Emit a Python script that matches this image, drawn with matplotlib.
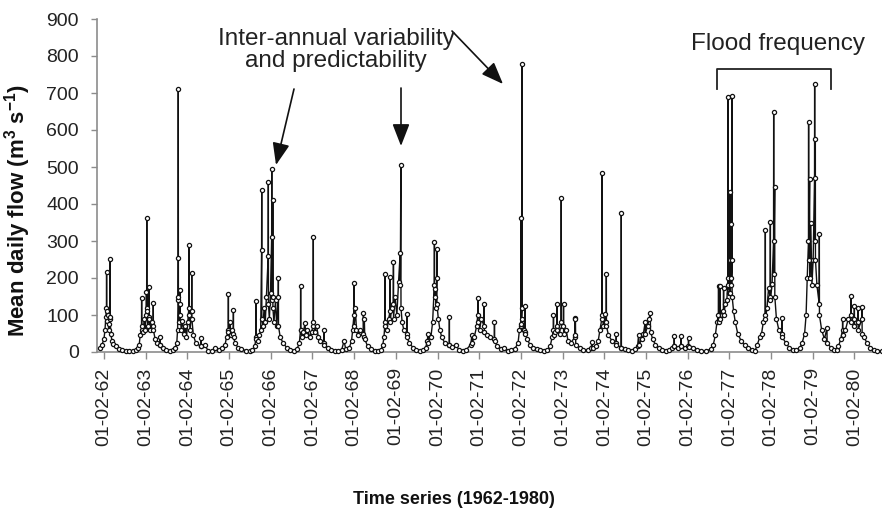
import numpy as np
import matplotlib
matplotlib.use("Agg")
import matplotlib.pyplot as plt

# ---- data: (date, mean daily flow m3/s) anchor readings per hydrological season ----
season_62 = [("1962-01-01", 12), ("1962-01-15", 20), ("1962-02-01", 35), ("1962-02-10", 60), ("1962-02-18", 95),
             ("1962-02-23", 120), ("1962-02-24", 216), ("1962-02-25", 110), ("1962-03-02", 85), ("1962-03-08", 100),
             ("1962-03-14", 60), ("1962-03-20", 75), ("1962-03-24", 90), ("1962-03-25", 251), ("1962-03-26", 95),
             ("1962-04-02", 50), ("1962-04-12", 30), ("1962-04-25", 22), ("1962-05-15", 15), ("1962-06-10", 8),
             ("1962-07-10", 5), ("1962-08-10", 3), ("1962-09-10", 2), ("1962-10-10", 3), ("1962-11-05", 5),
             ("1962-11-25", 10)]
season_63 = [("1962-12-07", 20), ("1962-12-15", 45), ("1962-12-27", 60), ("1962-12-28", 146), ("1962-12-29", 70),
             ("1963-01-10", 55), ("1963-01-20", 90), ("1963-01-28", 60), ("1963-02-05", 100), ("1963-02-08", 162),
             ("1963-02-10", 120), ("1963-02-11", 363), ("1963-02-12", 110), ("1963-02-20", 70), ("1963-03-01", 95),
             ("1963-03-02", 175), ("1963-03-03", 90), ("1963-03-15", 60), ("1963-03-25", 80), ("1963-04-08", 70),
             ("1963-04-09", 132), ("1963-04-10", 60), ("1963-04-25", 35), ("1963-05-15", 25), ("1963-06-05", 20),
             ("1963-06-06", 41), ("1963-06-08", 18), ("1963-07-01", 10), ("1963-08-01", 5), ("1963-09-01", 3),
             ("1963-10-01", 5), ("1963-10-20", 12)]
season_64 = [("1963-11-01", 25), ("1963-11-08", 60), ("1963-11-12", 140), ("1963-11-13", 255), ("1963-11-14", 710),
             ("1963-11-15", 150), ("1963-11-22", 80), ("1963-11-28", 130), ("1963-11-29", 167), ("1963-11-30", 100),
             ("1963-12-10", 60), ("1963-12-20", 85), ("1964-01-05", 50), ("1964-01-15", 70), ("1964-01-25", 40),
             ("1964-02-05", 80), ("1964-02-15", 120), ("1964-02-16", 290), ("1964-02-17", 100), ("1964-02-25", 60),
             ("1964-03-10", 110), ("1964-03-11", 213), ("1964-03-12", 90), ("1964-03-25", 45), ("1964-04-15", 25),
             ("1964-05-30", 15), ("1964-05-31", 38), ("1964-06-01", 15), ("1964-07-01", 20), ("1964-08-01", 4),
             ("1964-09-01", 3), ("1964-10-01", 10), ("1964-11-01", 5), ("1964-12-01", 10)]
season_65 = [("1964-12-28", 20), ("1965-01-10", 40), ("1965-01-25", 60), ("1965-01-26", 158), ("1965-01-27", 55),
             ("1965-02-10", 82), ("1965-02-17", 45), ("1965-02-27", 60), ("1965-03-10", 50), ("1965-03-11", 113),
             ("1965-03-12", 40), ("1965-03-25", 25), ("1965-04-20", 12), ("1965-05-20", 7), ("1965-07-01", 4),
             ("1965-08-01", 3), ("1965-08-25", 5)]
season_66 = [("1965-09-15", 15), ("1965-09-24", 40), ("1965-09-25", 137), ("1965-09-26", 35), ("1965-10-10", 30),
             ("1965-10-25", 45), ("1965-11-05", 60), ("1965-11-13", 275), ("1965-11-14", 437), ("1965-11-15", 90),
             ("1965-11-25", 70), ("1965-12-05", 120), ("1965-12-15", 80), ("1965-12-25", 150), ("1966-01-10", 260),
             ("1966-01-11", 460), ("1966-01-12", 130), ("1966-01-20", 90), ("1966-01-30", 160), ("1966-02-09", 310),
             ("1966-02-10", 495), ("1966-02-11", 140), ("1966-02-18", 150), ("1966-02-19", 410), ("1966-02-20", 120),
             ("1966-03-01", 80), ("1966-03-15", 140), ("1966-03-25", 70), ("1966-04-08", 150), ("1966-04-09", 200),
             ("1966-04-10", 70), ("1966-04-25", 40), ("1966-05-20", 25), ("1966-06-20", 12), ("1966-07-20", 6),
             ("1966-08-20", 4), ("1966-09-20", 8)]
season_67 = [("1966-10-10", 25), ("1966-10-20", 60), ("1966-10-21", 178), ("1966-10-22", 60), ("1966-11-01", 40),
             ("1966-11-15", 55), ("1966-11-28", 78), ("1966-12-05", 45), ("1966-12-20", 60), ("1967-01-10", 40),
             ("1967-01-25", 55), ("1967-02-08", 70), ("1967-02-09", 311), ("1967-02-10", 80), ("1967-02-20", 55),
             ("1967-03-10", 70), ("1967-03-25", 40), ("1967-04-10", 30), ("1967-05-13", 25), ("1967-05-14", 59),
             ("1967-05-15", 20), ("1967-06-15", 12), ("1967-07-15", 6), ("1967-08-15", 4), ("1967-09-15", 3),
             ("1967-10-15", 5), ("1967-11-05", 30), ("1967-11-20", 8), ("1967-12-20", 10)]
season_68 = [("1968-01-10", 30), ("1968-01-20", 60), ("1968-01-31", 100), ("1968-02-01", 187), ("1968-02-02", 70),
             ("1968-02-12", 120), ("1968-02-22", 60), ("1968-03-05", 45), ("1968-03-20", 60), ("1968-04-22", 50),
             ("1968-04-23", 106), ("1968-04-25", 40), ("1968-05-01", 90), ("1968-05-05", 35), ("1968-05-30", 15),
             ("1968-06-30", 7), ("1968-07-30", 4), ("1968-08-30", 3), ("1968-09-25", 6)]
season_69 = [("1968-10-10", 20), ("1968-10-20", 40), ("1968-10-29", 80), ("1968-10-30", 210), ("1968-10-31", 70),
             ("1968-11-15", 60), ("1968-11-30", 90), ("1968-12-12", 110), ("1968-12-13", 203), ("1968-12-14", 80),
             ("1968-12-25", 120), ("1969-01-10", 130), ("1969-01-11", 242), ("1969-01-12", 90), ("1969-01-25", 150),
             ("1969-02-10", 100), ("1969-02-25", 190), ("1969-03-11", 268), ("1969-03-12", 180), ("1969-03-17", 505),
             ("1969-03-18", 120), ("1969-03-28", 80), ("1969-04-12", 60), ("1969-05-07", 50), ("1969-05-08", 104),
             ("1969-05-09", 40), ("1969-05-30", 25), ("1969-06-30", 12), ("1969-07-30", 6), ("1969-08-30", 4),
             ("1969-09-30", 6), ("1969-10-20", 12)]
season_70 = [("1969-11-05", 30), ("1969-11-08", 50), ("1969-11-12", 25), ("1969-12-05", 40), ("1969-12-20", 80),
             ("1970-01-04", 180), ("1970-01-05", 297), ("1970-01-06", 150), ("1970-01-14", 170), ("1970-01-19", 120),
             ("1970-01-25", 200), ("1970-01-26", 279), ("1970-01-27", 130), ("1970-02-08", 90), ("1970-02-22", 60),
             ("1970-03-10", 40), ("1970-04-05", 25), ("1970-05-15", 20), ("1970-05-16", 95), ("1970-05-17", 20),
             ("1970-06-10", 14), ("1970-07-10", 20), ("1970-08-10", 5), ("1970-09-10", 4), ("1970-10-10", 6)]
season_71 = [("1970-11-20", 20), ("1970-11-29", 46), ("1970-12-02", 25), ("1970-12-20", 40), ("1971-01-10", 70),
             ("1971-01-20", 100), ("1971-01-21", 145), ("1971-01-22", 80), ("1971-02-05", 60), ("1971-02-20", 90),
             ("1971-03-16", 70), ("1971-03-17", 129), ("1971-03-18", 55), ("1971-04-10", 45), ("1971-05-10", 40),
             ("1971-06-14", 35), ("1971-06-15", 82), ("1971-06-16", 30), ("1971-07-10", 15), ("1971-08-10", 8),
             ("1971-09-10", 10), ("1971-10-10", 4), ("1971-11-10", 5), ("1971-12-10", 8)]
season_72 = [("1972-01-08", 25), ("1972-01-20", 60), ("1972-01-31", 70), ("1972-02-01", 361), ("1972-02-02", 75),
             ("1972-02-09", 120), ("1972-02-10", 778), ("1972-02-11", 90), ("1972-02-25", 60), ("1972-03-09", 55),
             ("1972-03-10", 124), ("1972-03-11", 50), ("1972-03-28", 35), ("1972-04-20", 20), ("1972-05-20", 12),
             ("1972-06-20", 7), ("1972-07-20", 5), ("1972-08-20", 4), ("1972-09-20", 6)]
season_73 = [("1972-10-15", 15), ("1972-11-01", 40), ("1972-11-12", 60), ("1972-11-13", 100), ("1972-11-14", 45),
             ("1972-11-28", 55), ("1972-12-12", 70), ("1972-12-13", 129), ("1972-12-14", 60), ("1973-01-05", 50),
             ("1973-01-19", 80), ("1973-01-20", 416), ("1973-01-21", 70), ("1973-02-08", 70), ("1973-02-09", 131),
             ("1973-02-10", 50), ("1973-03-05", 59), ("1973-03-20", 30), ("1973-04-15", 25), ("1973-05-18", 40),
             ("1973-05-20", 93), ("1973-05-22", 45), ("1973-05-24", 90), ("1973-05-27", 20), ("1973-06-30", 10),
             ("1973-08-01", 6), ("1973-09-10", 5), ("1973-10-10", 12), ("1973-10-16", 28), ("1973-10-22", 10),
             ("1973-11-20", 15)]
season_74 = [("1973-12-10", 30), ("1973-12-25", 60), ("1974-01-11", 90), ("1974-01-12", 484), ("1974-01-13", 100),
             ("1974-01-25", 70), ("1974-02-10", 102), ("1974-02-18", 80), ("1974-02-19", 212), ("1974-02-20", 70),
             ("1974-03-10", 45), ("1974-04-10", 30), ("1974-05-16", 25), ("1974-05-17", 48), ("1974-05-18", 20),
             ("1974-06-29", 12), ("1974-06-30", 375), ("1974-07-01", 12), ("1974-08-01", 8), ("1974-09-01", 5),
             ("1974-10-01", 4), ("1974-11-01", 8)]
season_75 = [("1974-11-20", 15), ("1974-11-28", 46), ("1974-12-05", 20), ("1974-12-25", 35), ("1975-01-10", 50),
             ("1975-01-26", 82), ("1975-01-27", 50), ("1975-02-15", 70), ("1975-03-01", 90), ("1975-03-11", 106),
             ("1975-03-13", 55), ("1975-04-01", 35), ("1975-04-25", 20), ("1975-05-25", 10), ("1975-06-25", 6),
             ("1975-07-25", 4), ("1975-08-25", 5), ("1975-09-20", 10)]
season_76 = [("1975-10-06", 15), ("1975-10-07", 44), ("1975-10-08", 15), ("1975-11-05", 12), ("1975-12-03", 15),
             ("1975-12-04", 43), ("1975-12-05", 15), ("1976-01-05", 12), ("1976-02-08", 15), ("1976-02-09", 37),
             ("1976-02-10", 14), ("1976-03-15", 10), ("1976-04-20", 6), ("1976-06-01", 4), ("1976-07-15", 3),
             ("1976-08-20", 8)]
season_77 = [("1976-09-13", 20), ("1976-10-01", 45), ("1976-10-15", 80), ("1976-10-28", 100), ("1976-10-29", 178),
             ("1976-10-30", 80), ("1976-11-13", 178), ("1976-11-14", 90), ("1976-11-28", 100), ("1976-12-11", 110),
             ("1976-12-12", 172), ("1976-12-13", 100), ("1976-12-28", 130), ("1977-01-10", 140), ("1977-01-19", 200),
             ("1977-01-20", 688), ("1977-01-21", 180), ("1977-02-01", 160), ("1977-02-07", 250), ("1977-02-08", 432),
             ("1977-02-09", 160), ("1977-02-14", 200), ("1977-02-15", 347), ("1977-02-16", 180), ("1977-02-23", 250),
             ("1977-02-24", 693), ("1977-02-25", 150), ("1977-03-10", 110), ("1977-03-25", 80), ("1977-04-15", 50),
             ("1977-05-15", 30), ("1977-06-15", 18), ("1977-07-15", 10), ("1977-08-15", 5), ("1977-09-15", 4)]
season_78 = [("1977-10-04", 20), ("1977-10-25", 40), ("1977-11-10", 50), ("1977-11-25", 80), ("1977-12-12", 100),
             ("1977-12-13", 331), ("1977-12-14", 90), ("1977-12-28", 120), ("1978-01-10", 172), ("1978-01-25", 150),
             ("1978-01-26", 351), ("1978-01-27", 140), ("1978-02-10", 185), ("1978-02-23", 300), ("1978-02-24", 648),
             ("1978-02-25", 212), ("1978-03-05", 445), ("1978-03-06", 150), ("1978-03-20", 90), ("1978-04-10", 60),
             ("1978-05-07", 50), ("1978-05-08", 91), ("1978-05-09", 40), ("1978-06-10", 25), ("1978-07-10", 12),
             ("1978-08-10", 6), ("1978-09-10", 5), ("1978-10-10", 10), ("1978-11-01", 25)]
season_79 = [("1978-11-22", 50), ("1978-12-05", 100), ("1978-12-15", 200), ("1978-12-26", 300), ("1978-12-27", 621),
             ("1978-12-28", 250), ("1979-01-05", 468), ("1979-01-06", 200), ("1979-01-15", 350), ("1979-01-25", 180),
             ("1979-02-05", 250), ("1979-02-17", 470), ("1979-02-18", 724), ("1979-02-19", 300), ("1979-02-24", 576),
             ("1979-02-25", 250), ("1979-03-10", 180), ("1979-03-30", 130), ("1979-03-31", 320), ("1979-04-01", 100),
             ("1979-04-20", 60), ("1979-05-15", 35), ("1979-06-06", 65), ("1979-06-07", 25), ("1979-07-10", 12),
             ("1979-08-10", 6), ("1979-09-01", 5)]
season_80 = [("1979-09-14", 15), ("1979-10-05", 35), ("1979-10-20", 60), ("1979-10-21", 88), ("1979-10-22", 45),
             ("1979-11-15", 60), ("1979-12-10", 90), ("1980-01-01", 100), ("1980-01-02", 151), ("1980-01-03", 80),
             ("1980-01-31", 90), ("1980-02-01", 124), ("1980-02-02", 70), ("1980-03-03", 80), ("1980-03-04", 118),
             ("1980-03-05", 60), ("1980-04-07", 90), ("1980-04-08", 122), ("1980-04-09", 50), ("1980-04-25", 41),
             ("1980-05-20", 25), ("1980-06-20", 12), ("1980-07-20", 6), ("1980-08-20", 4), ("1980-09-30", 3)]

tick_dates = ["%d-02-01" % y for y in range(1962, 1981)]
tick_labels = ["01-02-%02d" % (y % 100) for y in range(1962, 1981)]
y_ticks = [0, 100, 200, 300, 400, 500, 600, 700, 800, 900]

seasons = [season_62, season_63, season_64, season_65, season_66, season_67, season_68, season_69, season_70,
           season_71, season_72, season_73, season_74, season_75, season_76, season_77, season_78, season_79,
           season_80]
pairs = [p for s in seasons for p in s]
dates = np.array([p[0] for p in pairs], dtype="datetime64[D]")
flow = np.array([p[1] for p in pairs], dtype=float)
order = np.argsort(dates)
dates, flow = dates[order], flow[order]

# ---- figure ----
SANS = ["Liberation Sans", "DejaVu Sans"]
plt.rcParams["mathtext.fontset"] = "custom"
plt.rcParams["mathtext.bf"] = "Liberation Sans:bold"
plt.rcParams["mathtext.rm"] = "Liberation Sans"

fig = plt.figure(figsize=(8.82, 5.2), dpi=100)
W, H = 882, 520
ax = fig.add_axes([97 / W, 1 - 352 / H, 785 / W, 333 / H])

ax.plot(dates, flow, color="#111111", lw=1.0, marker="o", ms=3.0, mfc="white", mec="#111111", mew=0.9,
        clip_on=False, zorder=3)

ax.set_ylim(0, 900)
ax.set_xlim(np.datetime64("1961-12-02"), np.datetime64("1980-09-30"))
ax.set_yticks(y_ticks)
ax.set_yticklabels([str(v) for v in y_ticks], family=SANS, fontsize=14, color="#222222")
ax.set_xticks(np.array(tick_dates, dtype="datetime64[D]"))
ax.set_xticklabels(tick_labels, rotation=90, family=SANS, fontsize=14,
                   color="#222222", va="top", ha="center")

for side in ("top", "right"):
    ax.spines[side].set_visible(False)
for side in ("left", "bottom"):
    ax.spines[side].set_color("#8c8c8c")
    ax.spines[side].set_linewidth(1.2)
ax.tick_params(axis="y", direction="out", length=4, width=1.0, color="#8c8c8c", pad=9)
ax.tick_params(axis="x", direction="out", length=5, width=1.0, color="#8c8c8c", pad=6)

ax.set_ylabel(r"Mean daily flow (m$^{\mathbf{3}}$ s$^{\mathbf{-1}}$)", family=SANS,
              fontweight="bold", fontsize=16, color="#111111")
ax.yaxis.set_label_coords(-0.081, 0.423)

fig.text(454 / W, 1 - 500 / H, "Time series (1962-1980)", family=SANS, fontweight="bold", fontsize=13,
         ha="center", va="center", color="#111111")

# annotations
fig.text(336 / W, 1 - 50 / H, "Inter-annual variability\nand predictability", family=SANS, fontsize=17.5,
         ha="center", va="center", color="#222222", linespacing=1.05)
fig.text(778 / W, 1 - 44 / H, "Flood frequency", family=SANS, fontsize=17.5, ha="center", va="center",
         color="#222222")

arrow_kw = dict(arrowstyle="-|>,head_length=0.9,head_width=0.35", mutation_scale=15, lw=1.2, color="#111111",
                shrinkA=0, shrinkB=0)
for (x0, y0), (x1, y1) in [((294, 89), (276, 165)), ((401, 88), (401, 146)), ((452, 31), (503, 84))]:
    ax.annotate("", xy=(x1, H - y1), xytext=(x0, H - y0), xycoords="figure pixels", textcoords="figure pixels",
                arrowprops=arrow_kw, annotation_clip=False)

# bracket for flood frequency
bx = np.array([717, 717, 831, 831]) / W
by = 1 - np.array([89, 69, 69, 89]) / H
fig.add_artist(plt.Line2D(bx, by, transform=fig.transFigure, color="#222222", lw=1.3))

fig.savefig("out.png", dpi=100)
